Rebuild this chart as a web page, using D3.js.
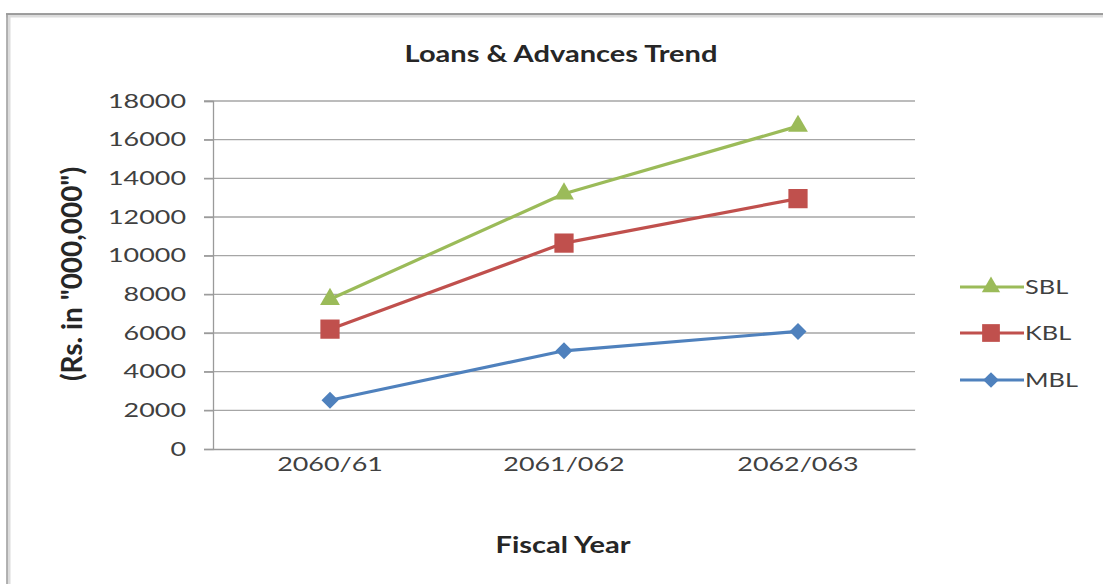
<!DOCTYPE html>
<html>
<head>
<meta charset="utf-8">
<script src="https://cdn.jsdelivr.net/npm/d3@7"></script>
<style>
  html, body { margin: 0; padding: 0; background: #fff; }
  svg { display: block; }
  text { font-family: Lato, "Open Sans", "Noto Sans", sans-serif; }
</style>
</head>
<body>
<svg id="chart" width="1103" height="584"></svg>
<script>
// Fiscal years and loan & advance figures (Rs. in "000,000")
const categories = ["2060/61", "2061/062", "2062/063"];
const seriesNames = ["SBL", "KBL", "MBL"];
const sblValues = [7750, 13200, 16700];
const kblValues = [6200, 10650, 12950];
const mblValues = [2520, 5080, 6080];
const yTicks = [0, 2000, 4000, 6000, 8000, 10000, 12000, 14000, 16000, 18000];

const series = [
  { name: seriesNames[0], values: sblValues, color: "#9BBB59", symbol: d3.symbolTriangle, size: 170, rot: 0 },
  { name: seriesNames[1], values: kblValues, color: "#C0504D", symbol: d3.symbolSquare, size: 370, rot: 0 },
  { name: seriesNames[2], values: mblValues, color: "#4F81BD", symbol: d3.symbolSquare, size: 145, rot: 45 }
];

// text is drawn slightly widened, like the wide chart lettering
const SX = 1.38;

const svg = d3.select("#chart");

// outer chart frame with a soft shadow on the top/left edges
svg.append("rect").attr("x", 0).attr("y", 0).attr("width", 1103).attr("height", 584).attr("fill", "#fff");
svg.append("line").attr("x1", 6).attr("x2", 1103).attr("y1", 16).attr("y2", 16)
  .attr("stroke", "#dcdcdc").attr("stroke-width", 3);
svg.append("line").attr("x1", 9).attr("x2", 9).attr("y1", 15).attr("y2", 584)
  .attr("stroke", "#dcdcdc").attr("stroke-width", 3);
svg.append("line").attr("x1", 6).attr("x2", 1103).attr("y1", 14).attr("y2", 14)
  .attr("stroke", "#7f7f7f").attr("stroke-width", 1.5);
svg.append("line").attr("x1", 7).attr("x2", 7).attr("y1", 14).attr("y2", 584)
  .attr("stroke", "#9a9a9a").attr("stroke-width", 1.5);

const plot = { left: 213, right: 915, top: 101, bottom: 449 };

const x = d3.scaleBand().domain(categories).range([plot.left, plot.right]);
const y = d3.scaleLinear().domain([0, 18000]).range([plot.bottom, plot.top]);

// horizontal gridlines
svg.append("g")
  .selectAll("line")
  .data(yTicks.filter(t => t > 0))
  .join("line")
  .attr("x1", plot.left - 9).attr("x2", plot.right)
  .attr("y1", d => y(d)).attr("y2", d => y(d))
  .attr("stroke", "#a6a6a6").attr("stroke-width", 1.3);

// y axis
const yAxis = svg.append("g")
  .attr("transform", `translate(${plot.left},0)`)
  .call(d3.axisLeft(y).tickValues(yTicks).tickSize(9).tickPadding(0).tickFormat(d3.format("d")));
yAxis.select(".domain").attr("stroke", "#9a9a9a").attr("stroke-width", 1.3);
yAxis.selectAll(".tick line").attr("stroke", "#9a9a9a").attr("stroke-width", 1.3);
yAxis.selectAll("text")
  .attr("x", 0)
  .attr("transform", `translate(-27,0) scale(${SX},1)`)
  .attr("font-size", 19.5).attr("fill", "#404040");

// x axis
const xAxis = svg.append("g")
  .attr("transform", `translate(0,${plot.bottom})`)
  .call(d3.axisBottom(x).tickSize(0).tickPadding(0));
xAxis.select(".domain").attr("stroke", "#9a9a9a").attr("stroke-width", 1.3);
xAxis.selectAll("text")
  .attr("y", 0).attr("dy", 0)
  .attr("transform", `translate(0,22) scale(${SX},1)`)
  .attr("font-size", 19.5).attr("fill", "#404040");

// title and axis titles
svg.append("text")
  .attr("transform", `translate(561,62) scale(1.32,1)`)
  .attr("text-anchor", "middle")
  .attr("font-size", 22).attr("font-weight", "bold").attr("fill", "#262626")
  .text("Loans & Advances Trend");
svg.append("text")
  .attr("transform", `translate(563,553) scale(1.32,1)`)
  .attr("text-anchor", "middle")
  .attr("font-size", 22).attr("font-weight", "bold").attr("fill", "#262626")
  .text("Fiscal Year");
svg.append("text")
  .attr("transform", `translate(82,274) rotate(-90) scale(1.33,1.35)`)
  .attr("text-anchor", "middle")
  .attr("font-size", 21).attr("font-weight", "bold").attr("fill", "#262626")
  .text('(Rs. in "000,000")');

// series lines and markers
const cx = d => x(d) + x.bandwidth() / 2;
const line = d3.line().x((v, i) => cx(categories[i])).y(v => y(v));

series.forEach(s => {
  svg.append("path")
    .datum(s.values)
    .attr("d", line)
    .attr("fill", "none")
    .attr("stroke", s.color)
    .attr("stroke-width", 3.2)
    .attr("stroke-linejoin", "round");
  svg.append("g")
    .selectAll("path")
    .data(s.values)
    .join("path")
    .attr("transform", (v, i) => `translate(${cx(categories[i])},${y(v)}) rotate(${s.rot})`)
    .attr("d", d3.symbol().type(s.symbol).size(s.size))
    .attr("fill", s.color);
});

// legend
const legendY = [287, 333, 380];
const legend = svg.append("g");
series.forEach((s, i) => {
  const g = legend.append("g").attr("transform", `translate(960,${legendY[i]})`);
  g.append("line").attr("x1", 0).attr("x2", 64).attr("stroke", s.color).attr("stroke-width", 3.2);
  g.append("path").attr("transform", `translate(31,0) rotate(${s.rot})`)
    .attr("d", d3.symbol().type(s.symbol).size(s.size * 0.85)).attr("fill", s.color);
  g.append("text")
    .attr("transform", `translate(65,0) scale(1.3,1)`)
    .attr("dy", "0.36em")
    .attr("font-size", 19.5).attr("fill", "#404040").text(s.name);
});
</script>
</body>
</html>
